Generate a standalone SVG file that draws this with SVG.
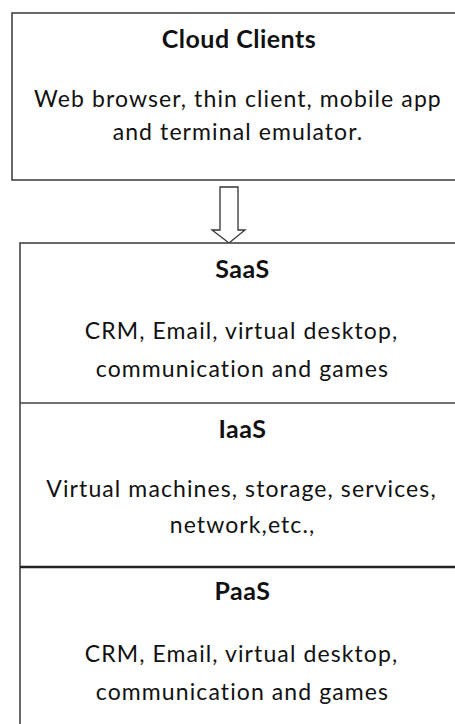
<svg xmlns="http://www.w3.org/2000/svg" width="455" height="724" viewBox="0 0 455 724">
<style>
.box{fill:#fff;stroke:#444;stroke-width:1.6}
.div{stroke:#444;stroke-width:1.6}
.h{font-family:Lato,"Liberation Sans",sans-serif;font-weight:bold;font-size:25px;letter-spacing:0.5px;fill:#111;text-anchor:middle;font-variant-ligatures:none}
.t{font-family:Lato,"Liberation Sans",sans-serif;font-size:23px;letter-spacing:1.1px;fill:#111;text-anchor:middle;font-variant-ligatures:none}
.arrow{fill:#fff;stroke:#333;stroke-width:1.3}
</style>
<rect width="455" height="724" fill="#fff"/>
<g id="cloud-clients">
<rect class="box" x="12" y="13" width="460" height="167"/>
<text class="h" x="239" y="48">Cloud Clients</text>
<text class="t" x="238" y="107">Web browser, thin client, mobile app</text>
<text class="t" x="238" y="140">and terminal emulator.</text>
</g>
<g id="connectors">
<path class="arrow" d="M220,187 H238 V230 H245 L229,243 L212,230 H220 Z"/>
</g>
<g id="stack">
<rect class="box" x="20" y="243" width="460" height="500"/>
</g>
<g id="saas">
<text class="h" x="242.5" y="278">SaaS</text>
<text class="t" x="241.5" y="339">CRM, Email, virtual desktop,</text>
<text class="t" x="242.5" y="377">communication and games</text>
</g>
<g id="iaas">
<line class="div" x1="20" y1="403" x2="460" y2="403"/>
<text class="h" x="242.5" y="438">IaaS</text>
<text class="t" x="241.5" y="497">Virtual machines, storage, services,</text>
<text class="t" x="242.5" y="533">network,etc.,</text>
</g>
<g id="paas">
<line class="div" x1="20" y1="567" x2="460" y2="567" style="stroke-width:2.6;stroke:#222"/>
<text class="h" x="242.5" y="600">PaaS</text>
<text class="t" x="241.5" y="662">CRM, Email, virtual desktop,</text>
<text class="t" x="242.5" y="700">communication and games</text>
</g>
</svg>
